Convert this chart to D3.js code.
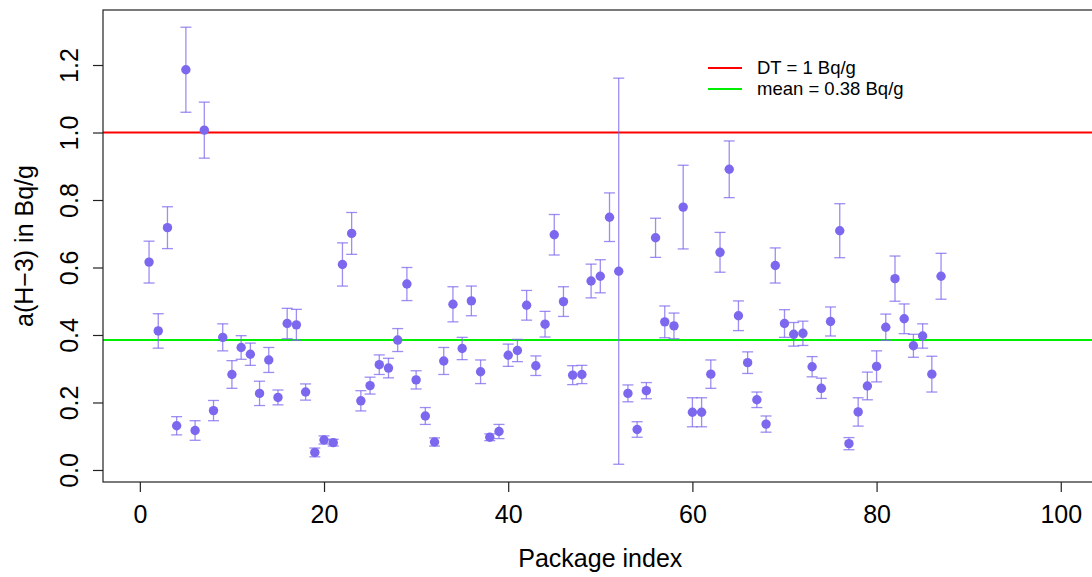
<!DOCTYPE html>
<html>
<head>
<meta charset="utf-8">
<script src="https://cdn.jsdelivr.net/npm/d3@7"></script>
<style>
  html, body { margin: 0; padding: 0; background: #fff; }
  svg { display: block; font-family: "Liberation Sans", Arial, Helvetica, sans-serif; }
</style>
</head>
<body>
<svg id="chart" width="1092" height="577"></svg>
<script>
// ---- data ----
const packageIndex = [1,2,3,4,5,6,7,8,9,10,11,12,13,14,15,16,17,18,19,20,21,22,23,24,25,26,27,28,29,30,
  31,32,33,34,35,36,37,38,39,40,41,42,43,44,45,46,47,48,49,50,51,52,53,54,55,56,57,58,59,60,
  61,62,63,64,65,66,67,68,69,70,71,72,73,74,75,76,77,78,79,80,81,82,83,84,85,86,87];
const activity = [0.616,0.412,0.718,0.131,1.186,0.117,1.007,0.176,0.393,0.283,
  0.363,0.343,0.227,0.326,0.215,0.434,0.430,0.231,0.052,0.089,
  0.081,0.609,0.701,0.205,0.250,0.312,0.302,0.385,0.551,0.267,
  0.160,0.083,0.323,0.491,0.360,0.501,0.291,0.097,0.114,0.340,
  0.354,0.488,0.309,0.432,0.697,0.499,0.281,0.283,0.560,0.574,
  0.749,0.589,0.227,0.120,0.235,0.688,0.439,0.427,0.779,0.171,
  0.171,0.284,0.645,0.891,0.457,0.318,0.208,0.136,0.606,0.434,
  0.402,0.405,0.306,0.242,0.440,0.709,0.078,0.172,0.249,0.307,
  0.423,0.567,0.448,0.368,0.397,0.284,0.574];
const uncertainty = [0.062,0.051,0.062,0.027,0.126,0.029,0.083,0.030,0.040,0.041,
  0.035,0.033,0.036,0.037,0.022,0.045,0.046,0.024,0.013,0.012,
  0.010,0.064,0.062,0.030,0.025,0.029,0.029,0.034,0.049,0.027,
  0.025,0.012,0.040,0.052,0.033,0.044,0.035,0.010,0.021,0.033,
  0.033,0.044,0.029,0.038,0.060,0.044,0.028,0.027,0.050,0.049,
  0.072,0.572,0.025,0.023,0.024,0.058,0.047,0.038,0.124,0.043,
  0.043,0.042,0.059,0.084,0.044,0.032,0.023,0.024,0.052,0.041,
  0.035,0.036,0.030,0.030,0.043,0.080,0.018,0.042,0.041,0.046,
  0.039,0.067,0.044,0.034,0.036,0.053,0.068];
const xTicks = [0, 20, 40, 60, 80, 100];
const yTicks = [0.0, 0.2, 0.4, 0.6, 0.8, 1.0, 1.2];
const dtValue = 1.0;
const meanValue = 0.385;
const legendLabels = ["DT = 1 Bq/g", "mean = 0.38 Bq/g"];
const legendColors = ["#ff0000", "#00ee00"];

// ---- layout ----
const svg = d3.select("#chart");
const plot = { left: 103, top: 10, right: 1097.6, bottom: 482 };
const x = d3.scaleLinear().domain([-4, 104]).range([plot.left, plot.right]);
const y = d3.scaleLinear().domain([-0.0356, 1.363]).range([plot.bottom, plot.top]);

const data = packageIndex.map((p, i) => ({ p, v: activity[i], e: uncertainty[i] }));
const ptColor = "#7b68ee";

// reference lines
svg.append("line").attr("x1", plot.left).attr("x2", plot.right)
  .attr("y1", y(dtValue)).attr("y2", y(dtValue))
  .attr("stroke", legendColors[0]).attr("stroke-width", 2);
svg.append("line").attr("x1", plot.left).attr("x2", plot.right)
  .attr("y1", y(meanValue)).attr("y2", y(meanValue))
  .attr("stroke", legendColors[1]).attr("stroke-width", 2);

// error bars
const eb = svg.append("g").attr("stroke", ptColor).attr("stroke-opacity", 0.75)
  .attr("stroke-width", 1.3).attr("fill", "none");
data.forEach(d => {
  const cx = x(d.p), y1 = y(d.v + d.e), y0 = y(d.v - d.e);
  eb.append("line").attr("x1", cx).attr("x2", cx).attr("y1", y1).attr("y2", y0);
  eb.append("line").attr("x1", cx - 5.5).attr("x2", cx + 5.5).attr("y1", y1).attr("y2", y1);
  eb.append("line").attr("x1", cx - 5.5).attr("x2", cx + 5.5).attr("y1", y0).attr("y2", y0);
});

// points
svg.append("g").selectAll("circle").data(data).join("circle")
  .attr("cx", d => x(d.p)).attr("cy", d => y(d.v)).attr("r", 4.7)
  .attr("fill", ptColor);

// box
svg.append("rect").attr("x", plot.left).attr("y", plot.top)
  .attr("width", plot.right - plot.left).attr("height", plot.bottom - plot.top)
  .attr("fill", "none").attr("stroke", "#222").attr("stroke-width", 1.2);

// x axis
const xAxis = d3.axisBottom(x).tickValues(xTicks).tickSize(10).tickPadding(0).tickFormat(d3.format("d"));
const gx = svg.append("g").attr("transform", `translate(0,${plot.bottom})`).call(xAxis);
gx.select(".domain").remove();
gx.selectAll(".tick line").attr("stroke", "#222").attr("stroke-width", 1.2);
gx.selectAll(".tick text").attr("font-size", 25).attr("fill", "#000")
  .attr("font-family", "Liberation Sans, Arial, sans-serif")
  .attr("dy", null).attr("y", 41);

// y axis
const yAxis = d3.axisLeft(y).tickValues(yTicks).tickSize(10).tickFormat(d3.format(".1f"));
const gy = svg.append("g").attr("transform", `translate(${plot.left},0)`).call(yAxis);
gy.select(".domain").remove();
gy.selectAll(".tick line").attr("stroke", "#222").attr("stroke-width", 1.2);
gy.selectAll(".tick text").attr("font-size", 25).attr("fill", "#000")
  .attr("font-family", "Liberation Sans, Arial, sans-serif")
  .attr("x", null).attr("dy", null)
  .attr("text-anchor", "middle")
  .attr("transform", `translate(${78 - plot.left},0) rotate(-90)`);

// axis titles
svg.append("text").attr("x", x(50)).attr("y", 567).attr("text-anchor", "middle")
  .attr("font-size", 25).text("Package index");
svg.append("text").attr("transform", `translate(32.5,${(plot.top + plot.bottom) / 2}) rotate(-90)`)
  .attr("text-anchor", "middle").attr("font-size", 25).text("a(H\u22123) in Bq/g");

// legend
const lg = svg.append("g");
legendLabels.forEach((lab, i) => {
  const ly = 68 + i * 21;
  lg.append("line").attr("x1", 708).attr("x2", 742).attr("y1", ly).attr("y2", ly)
    .attr("stroke", legendColors[i]).attr("stroke-width", 2);
  lg.append("text").attr("x", 757).attr("y", ly).attr("dy", "0.35em")
    .attr("font-size", 18.5).text(lab);
});
</script>
</body>
</html>
